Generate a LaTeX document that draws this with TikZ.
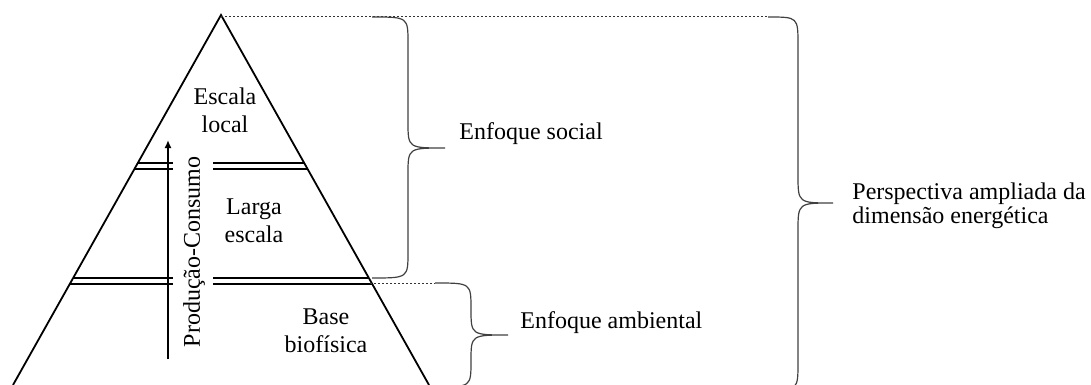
\documentclass[tikz,border=0pt]{standalone}
\usepackage{fontspec}
\setmainfont{Liberation Serif}
\usetikzlibrary{arrows.meta}

\newcommand{\topoX}{221}
\newcommand{\topoY}{15}
\newcommand{\inclinacao}{0.5625}
\newcommand{\vaoEsq}{173}
\newcommand{\vaoDir}{213}
\newcommand{\linhaDupla}[2] %y1,y2
{\draw[linha] ({\topoX-\inclinacao*(#1-\topoY)},#1)--(\vaoEsq,#1) (\vaoDir,#1)--({\topoX+\inclinacao*(#1-\topoY)},#1)
	({\topoX-\inclinacao*(#2-\topoY)},#2)--(\vaoEsq,#2) (\vaoDir,#2)--({\topoX+\inclinacao*(#2-\topoY)},#2);}
\newcommand{\chave}[7] %x0,ycima,ybaixo,xespinha,xponta,ymeio,r
{\draw[chaveLinha] (#1,#2) .. controls (#4,#2) .. (#4,#2+#7) --(#4,#6-#7) .. controls (#4,#6) .. (#5,#6) .. controls (#4,#6) .. (#4,#6+#7) --(#4,#3-#7) .. controls (#4,#3) .. (#1,#3);}

\tikzset{
	linha/.style={line width=0.9pt},
	chaveLinha/.style={line width=0.6pt,black!75},
	pontilhado/.style={line width=0.5pt,black!80,dash pattern=on 1.2pt off 0.8pt},
	seta/.style={line width=1pt,-{Latex[length=4pt,width=3.5pt]}},
	rotulo/.style={align=center,anchor=base,inner sep=0pt},
	texto/.style={align=left,anchor=base west,inner sep=0pt}
}

\begin{document}
\begin{tikzpicture}[x=0.5pt,y=-0.5pt,font=\fontsize{12}{14}\selectfont]
	\useasboundingbox (0,0) rectangle (1091,385);
	% pirâmide
	\draw[linha] (13,385)--(\topoX,\topoY)--(429,385);
	\linhaDupla{163}{169}
	\linhaDupla{278}{284}
	% seta produção-consumo
	\coordinate (setaInicio) at (168,359);
	\coordinate (setaFim) at (168,140);
	\draw[seta] (setaInicio)--(setaFim);
	\node[rotate=90,inner sep=0pt] (prodCons) at (194,252) {Produção-Consumo};
	% níveis (base = última linha)
	\node[rotulo] (escala) at (225,133) {Escala\\local};
	\node[rotulo] (larga) at (254,242) {Larga\\escala};
	\node[rotulo] (base) at (326,352) {Base\\biofísica};
	% linhas de referência
	\draw[pontilhado] (\topoX,17)--(768,17)
	(370,283)--(435,283);
	% chaves
	\chave{372}{17}{278}{408}{445}{148}{26}
	\chave{435}{283}{387}{471}{508}{335}{26}
	\chave{768}{17}{390}{798}{833}{203}{28}
	\node[texto] (social) at (459,140) {Enfoque social};
	\node[texto] (ambiental) at (520,328) {Enfoque ambiental};
	\node[texto,font=\fontsize{12}{12}\selectfont] (perspectiva) at (852,223) {Perspectiva ampliada da\\dimensão energética};
\end{tikzpicture}
\end{document}
